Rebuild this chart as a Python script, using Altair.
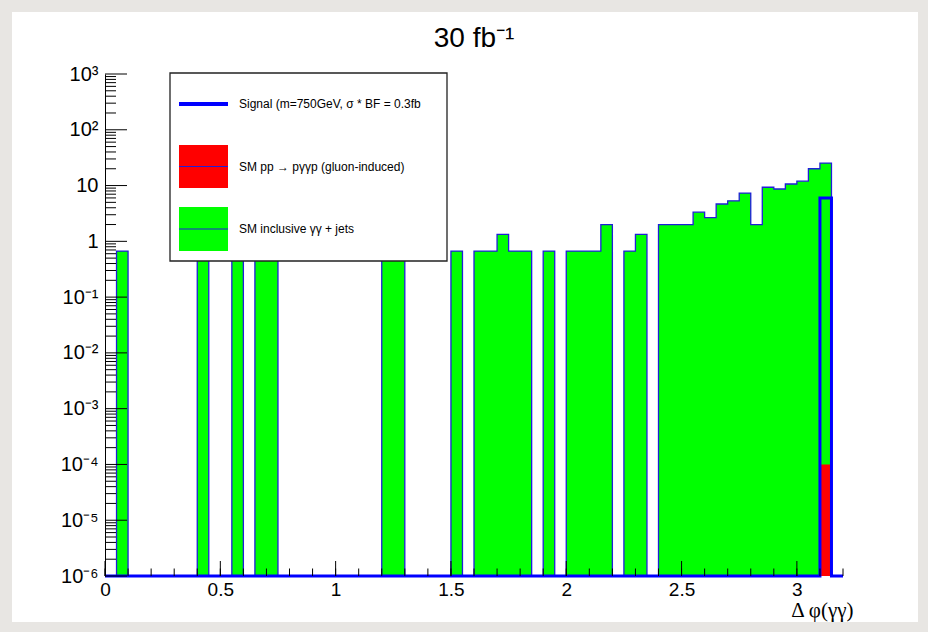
import altair as alt
import pandas as pd
import numpy as np

# ---------------- data ----------------
n_bins = 64
x_min, x_max = 0.0, 3.2

# SM inclusive γγ + jets (stack total) per bin of Δφ
green_counts = [
    0, 0.67, 0, 0, 0, 0, 0, 0,            # 0-7
    0.67, 0, 0, 0.67, 0, 0.67, 0.67, 0,   # 8-15
    0, 0, 0, 0, 0, 0, 0, 0,               # 16-23
    0.67, 0.67, 0, 0, 0, 0, 0.67, 0,      # 24-31
    0.67, 0.67, 1.33, 0.67, 0.67, 0, 0.67, 0,  # 32-39
    0.67, 0.67, 0.67, 2.0, 0, 0.67, 1.33, 0,   # 40-47
    2.0, 2.0, 2.0, 3.33, 2.67, 4.67, 5.33, 7.33,  # 48-55
    2.0, 9.33, 8.67, 10.67, 12.0, 20.0, 25.3, 0,  # 56-63
]
# SM pp -> pγγp (gluon-induced)
red_counts = [0] * 62 + [1e-4, 0]
# Signal (m=750 GeV)
signal_counts = [0] * 62 + [6.0, 0]

x_tick_values = [0, 0.5, 1, 1.5, 2, 2.5, 3]
x_minor_values = [round(0.1 * k, 1) for k in range(0, 33)]
y_tick_values = [1e-6, 1e-5, 1e-4, 1e-3, 1e-2, 1e-1, 1, 10, 100, 1000]
y_tick_labels = ['10⁻⁶', '10⁻⁵', '10⁻⁴', '10⁻³', '10⁻²', '10⁻¹', '1', '10', '10²', '10³']
y_minor_values = [k * 10.0 ** d for d in range(-6, 3) for k in range(2, 10)]

legend_labels = ['Signal (m=750GeV, σ * BF = 0.3fb',
                 'SM pp → pγγp (gluon-induced)',
                 'SM inclusive γγ + jets']
title_text = '30 fb⁻¹'
x_title = 'Δ φ(γγ)'

assert len(green_counts) == n_bins

# ---------------- tables ----------------
y_floor = 1e-6
width_bin = (x_max - x_min) / n_bins
lo = [x_min + i * width_bin for i in range(n_bins)]
hi = [x_min + (i + 1) * width_bin for i in range(n_bins)]
bins = pd.DataFrame({'lo': lo, 'hi': hi, 'green': green_counts,
                     'red': red_counts, 'signal': signal_counts})
red_bars = bins[bins.red > 0]


def step_table(counts):
    xs = lo + [x_max]
    vs = [c if c > 0 else y_floor for c in counts]
    vs = vs + [vs[-1]]
    return pd.DataFrame({'x': xs, 'v': vs})


green_step = step_table(green_counts)
signal_step = step_table(signal_counts)

# ---------------- scales / axes ----------------
FONT = 'Liberation Sans'
xscale = alt.Scale(domain=[x_min, x_max], nice=False, zero=False)
yscale = alt.Scale(type='log', domain=[1e-6, 1e3], nice=False)
label_arr = '[' + ','.join("'%s'" % s for s in y_tick_labels) + ']'
xaxis = alt.Axis(values=x_tick_values, format='~g', grid=False, ticks=False, domain=False,
                 labelFlush=False, labelOverlap=False, labelPadding=4, labelFontSize=19,
                 labelFont=FONT, labelColor='black', zindex=2,
                 title=x_title, titleFont='Liberation Serif', titleFontSize=21,
                 titleFontWeight='normal', titleColor='black', titleAlign='right',
                 titleAnchor='end', titleX=748, titleY=40, titleBaseline='alphabetic')
yaxis = alt.Axis(values=y_tick_values, labelExpr=label_arr + '[round(log(datum.value)/LN10)+6]',
                 grid=False, ticks=False, domain=True, domainColor='black', domainWidth=1,
                 labelOverlap=False, labelPadding=7, labelFontSize=20, labelFont=FONT,
                 labelColor='black', title=None, zindex=2)


def X(f):
    return alt.X(f, type='quantitative', scale=xscale, axis=xaxis)


def Y(f):
    return alt.Y(f, type='quantitative', scale=yscale, axis=yaxis)


one = alt.Data(values=[{'a': 1}])

background = alt.Chart(one).mark_rect(color='white').encode(
    x=alt.value(-93), x2=alt.value(813), y=alt.value(-62), y2=alt.value(548))

title_mark = alt.Chart(alt.Data(values=[{'t': title_text}])).mark_text(
    align='center', baseline='alphabetic', font=FONT, fontSize=28, color='black').encode(
    text='t:N', x=alt.value(369), y=alt.value(-27))

green_fill = alt.Chart(green_step).mark_area(interpolate='step-after', color='#00ff00').encode(
    x=X('x'), y=Y('v'), y2=alt.datum(y_floor))
red_fill = alt.Chart(red_bars).mark_rect(color='#ff0000').encode(
    x=X('lo'), x2='hi', y=Y('red'), y2=alt.datum(y_floor))
green_line = alt.Chart(green_step).mark_line(interpolate='step-after', color='#1f1fd8',
                                             strokeWidth=1.3).encode(x=X('x'), y=Y('v'))
signal_line = alt.Chart(signal_step).mark_line(interpolate='step-after', color='#0000ff',
                                               strokeWidth=3).encode(x=X('x'), y=Y('v'))

ymaj = alt.Chart(pd.DataFrame({'v': y_tick_values})).mark_rule(color='black', strokeWidth=1).encode(
    y=Y('v'), x=alt.value(0), x2=alt.value(22))
ymin = alt.Chart(pd.DataFrame({'v': y_minor_values})).mark_rule(color='black', strokeWidth=1).encode(
    y=Y('v'), x=alt.value(0), x2=alt.value(11))
xmaj = alt.Chart(pd.DataFrame({'v': x_tick_values})).mark_rule(color='black', strokeWidth=1).encode(
    x=X('v'), y=alt.value(487), y2=alt.value(502))
xmin_t = alt.Chart(pd.DataFrame({'v': x_minor_values})).mark_rule(color='black', strokeWidth=1).encode(
    x=X('v'), y=alt.value(494.5), y2=alt.value(502))

# legend (drawn by hand, ROOT style)
leg_box = alt.Chart(one).mark_rect(fill='white', stroke='#222222', strokeWidth=1.3).encode(
    x=alt.value(65), x2=alt.value(342), y=alt.value(-1), y2=alt.value(187))
leg_sig = alt.Chart(one).mark_rule(color='#0000ff', strokeWidth=4).encode(
    x=alt.value(74), x2=alt.value(123), y=alt.value(30))
leg_red = alt.Chart(one).mark_rect(color='#ff0000').encode(
    x=alt.value(74), x2=alt.value(123), y=alt.value(71), y2=alt.value(114))
leg_red_l = alt.Chart(one).mark_rule(color='#1f1fd8', strokeWidth=1.2).encode(
    x=alt.value(74), x2=alt.value(123), y=alt.value(92.5))
leg_grn = alt.Chart(one).mark_rect(color='#00ff00').encode(
    x=alt.value(74), x2=alt.value(123), y=alt.value(133), y2=alt.value(177))
leg_grn_l = alt.Chart(one).mark_rule(color='#1f1fd8', strokeWidth=1.2).encode(
    x=alt.value(74), x2=alt.value(123), y=alt.value(155))
leg_texts = []
for lbl, yy in zip(legend_labels, [30, 92.5, 155]):
    leg_texts.append(alt.Chart(alt.Data(values=[{'t': lbl}])).mark_text(
        align='left', baseline='middle', font=FONT, fontSize=12, color='black').encode(
        text='t:N', x=alt.value(134), y=alt.value(yy)))

chart = alt.layer(
    background, title_mark, green_fill, red_fill, green_line, signal_line,
    ymaj, ymin, xmaj, xmin_t,
    leg_box, leg_sig, leg_red, leg_red_l, leg_grn, leg_grn_l, *leg_texts
).properties(
    width=738, height=502,
    padding={'left': 105, 'top': 74, 'right': 85, 'bottom': 56},
    autosize=alt.AutoSizeParams(type='none'),
    background='#e8e6e3',
).configure_view(stroke='#444444', strokeWidth=1)

chart.save('out.html', embed_options={'renderer': 'svg', 'actions': False})
